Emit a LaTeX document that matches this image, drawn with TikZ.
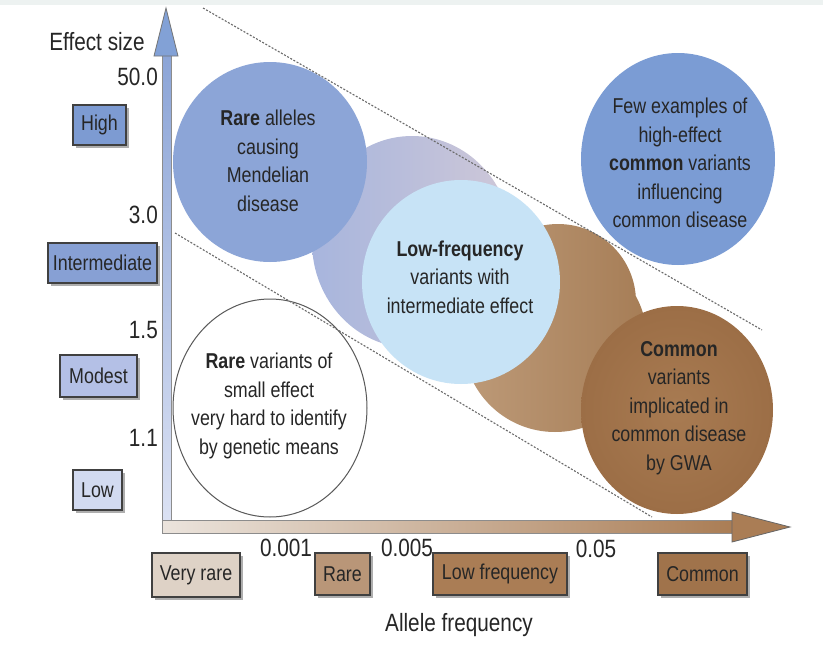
\documentclass[tikz,border=0pt]{standalone}
\usepackage{fontspec}
\setmainfont{Liberation Sans}[FakeStretch=0.83]
\usetikzlibrary{shadows,shapes.geometric}

\definecolor{txt}{HTML}{262626}
\definecolor{topband}{HTML}{EDF2F1}
\definecolor{rareblue}{HTML}{8CA5D7}
\definecolor{fewblue}{HTML}{7B9CD4}
\definecolor{cloudL}{HTML}{A7B5DD}
\definecolor{cloudR}{HTML}{CFC8D8}
\definecolor{lowblue}{HTML}{C7E3F6}
\definecolor{lobeL}{HTML}{BD9A78}
\definecolor{lobeR}{HTML}{A67D56}
\definecolor{brownIn}{HTML}{A87B52}
\definecolor{brownOut}{HTML}{9C6E46}
\definecolor{boxHigh}{HTML}{7D9BD2}
\definecolor{boxInter}{HTML}{87A0D4}
\definecolor{boxModest}{HTML}{B4C0E6}
\definecolor{boxLow}{HTML}{D2DAF0}
\definecolor{boxVrare}{HTML}{DED2C6}
\definecolor{boxRare}{HTML}{B99678}
\definecolor{boxLowf}{HTML}{AA7D55}
\definecolor{boxCommon}{HTML}{A0734B}
\definecolor{guide}{HTML}{6A6A6A}

\begin{document}
\begin{tikzpicture}[x=1pt,y=-1pt,
  blob/.style={ellipse, inner sep=0pt, draw=none},
  blobtext/.style={align=center, text=txt, inner sep=0pt,
    font=\fontsize{21.5}{28.5}\selectfont},
  catbox/.style={draw=black!75, line width=1.2pt, inner sep=0pt, text=txt,
    font=\fontsize{21.5}{24}\selectfont,
    drop shadow={shadow xshift=2.5pt, shadow yshift=-2.5pt, opacity=0.45, fill=black!70}},
  axistext/.style={text=txt, inner sep=0pt, font=\fontsize{25}{28}\selectfont},
  guideline/.style={draw=guide, line width=1.1pt, dash pattern=on 2pt off 1.6pt}
]
\useasboundingbox (0,0) rectangle (823,651);
\fill[white] (0,0) rectangle (823,651);
\fill[topband] (0,0) rectangle (823,5);

% --- axes ---------------------------------------------------------------
\coordinate (origin) at (162,533);
\path[draw=black!45, line width=0.8pt, left color=boxVrare!60, right color=boxLowf]
  (162,520) rectangle (733,533);
\path[draw=black!45, line width=0.8pt, bottom color=boxLow!80, top color=rareblue]
  (162,520) rectangle (171,55);
\filldraw[fill=fewblue!95, draw=black!55, line width=0.8pt]
  (154,56) -- (166,8) -- (178,56) -- cycle;
\filldraw[fill=boxLowf, draw=black!60, line width=0.8pt]
  (732,512) -- (790,527) -- (732,542) -- cycle;

% --- regions ------------------------------------------------------------
\node[blob, minimum width=200pt, minimum height=212pt, left color=cloudL, right color=cloudR] (cloud) at (412,242) {};
\node[blob, minimum width=194pt, minimum height=200pt, fill=rareblue] (rare) at (270,162) {};
% brown lobes joining the low-frequency and common regions, shaded as one
\path[left color=lobeL, right color=lobeR]
  (555,340) circle [radius=92] (558,302) circle [radius=78];
\node[blob, minimum width=198pt, minimum height=204pt, fill=lowblue] (lowfreq) at (461,282) {};
\node[blob, minimum width=192pt, minimum height=208pt, inner color=brownIn, outer color=brownOut] (common) at (677,410) {};
\node[blob, minimum width=194pt, minimum height=212pt, fill=fewblue] (few) at (678,159) {};
\node[blob, minimum width=194pt, minimum height=218pt, fill=white, draw=black!65, line width=1pt] (small) at (270,408) {};

% --- guide lines --------------------------------------------------------
\coordinate (u1) at (203,8);
\coordinate (u2) at (762,330);
\coordinate (l1) at (175,233);
\coordinate (l2) at (652,517);
\draw[guideline] (u1) -- (u2);
\draw[guideline] (l1) -- (l2);

% --- region texts -------------------------------------------------------
\node[blobtext] (rareT) at (268,161) {\textbf{Rare} alleles\\causing\\Mendelian\\disease};
\node[blobtext] (fewT) at (680,163) {Few examples of\\high-effect\\\textbf{common} variants\\influencing\\common disease};
\node[blobtext] (lowT) at (460,277) {\textbf{Low-frequency}\\variants with\\intermediate effect};
\node[blobtext] (smallT) at (269,406) {\textbf{Rare} variants of\\small effect\\very hard to identify\\by genetic means};
\node[blobtext] (commonT) at (679,408) {\textbf{Common}\\variants\\implicated in\\common disease\\by GWA};

% --- axis titles and ticks ----------------------------------------------
\node[axistext] (ytitle) at (97,42) {Effect size};
\node[axistext] (xtitle) at (459,625) {Allele frequency};
\node[axistext, anchor=east] (y50) at (158,77) {50.0};
\node[axistext, anchor=east] (y30) at (158,215) {3.0};
\node[axistext, anchor=east] (y15) at (158,330) {1.5};
\node[axistext, anchor=east] (y11) at (158,438) {1.1};
\node[axistext] (x001) at (286,548) {0.001};
\node[axistext] (x005) at (407,548) {0.005};
\node[axistext] (x05) at (596,549) {0.05};

% --- category boxes -----------------------------------------------------
\node[catbox, fill=boxHigh, minimum width=53pt, minimum height=40pt] (high) at (99.5,125) {High};
\node[catbox, fill=boxInter, minimum width=109pt, minimum height=40pt] (inter) at (102.5,263) {Intermediate};
\node[catbox, fill=boxModest, minimum width=77pt, minimum height=42pt] (modest) at (98.5,376) {Modest};
\node[catbox, fill=boxLow, minimum width=49pt, minimum height=40pt] (low) at (97.5,490) {Low};
\node[catbox, fill=boxVrare, minimum width=88pt, minimum height=44pt] (vrare) at (196,575) {Very rare};
\node[catbox, fill=boxRare, minimum width=55pt, minimum height=42pt] (rarebox) at (342.5,574) {Rare};
\node[catbox, fill=boxLowf, minimum width=134pt, minimum height=42pt] (lowf) at (500,574) {Low frequency};
\node[catbox, fill=boxCommon, minimum width=89pt, minimum height=42pt] (commonbox) at (702.5,574) {Common};
\end{tikzpicture}
\end{document}
